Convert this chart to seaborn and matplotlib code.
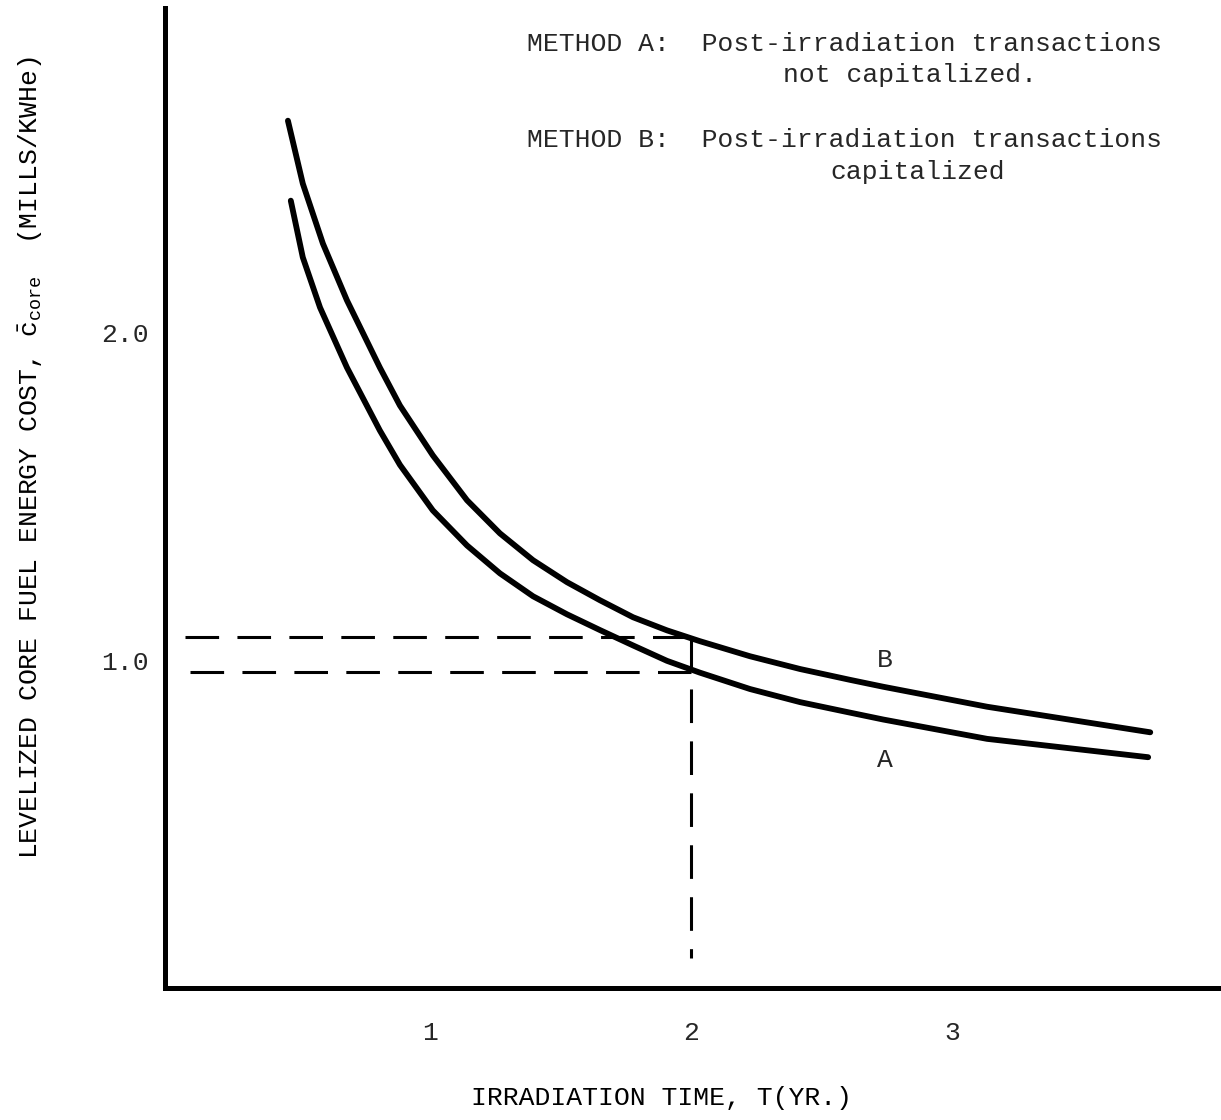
import matplotlib.pyplot as plt
import pandas as pd
import seaborn as sns

# values
t_b = [0.456, 0.513, 0.590, 0.682, 0.808, 0.885, 1.011, 1.142, 1.268, 1.395, 1.525,
       1.651, 1.778, 1.908, 2.034, 2.226, 2.418, 2.609, 2.736, 3.134, 3.759]
cost_b = [2.646, 2.454, 2.271, 2.098, 1.893, 1.777, 1.625, 1.488, 1.387, 1.305, 1.238,
          1.183, 1.131, 1.091, 1.058, 1.012, 0.973, 0.940, 0.919, 0.858, 0.780]
t_a = [0.467, 0.513, 0.579, 0.682, 0.808, 0.885, 1.011, 1.142, 1.268, 1.395, 1.525,
       1.651, 1.778, 1.908, 2.034, 2.226, 2.418, 2.609, 2.736, 3.134, 3.751]
cost_a = [2.402, 2.229, 2.076, 1.893, 1.701, 1.596, 1.457, 1.350, 1.265, 1.195, 1.140,
          1.092, 1.045, 0.998, 0.962, 0.912, 0.872, 0.840, 0.819, 0.760, 0.704]

x_ticks = [1, 2, 3]
x_tick_labels = ["1", "2", "3"]
y_ticks = [1.0, 2.0]
y_tick_labels = ["1.0", "2.0"]

read_t = 2.0
read_b = 1.07
read_a = 0.965
dash_left = 0.06
dash_bottom = 0.09

label_t = 2.743
label_b_y = 1.0
label_a_y = 0.695

df = pd.concat([
    pd.DataFrame({"T": t_a, "cost": cost_a, "method": "A"}),
    pd.DataFrame({"T": t_b, "cost": cost_b, "method": "B"}),
])

sns.set_theme(style="white")
plt.rcParams["font.family"] = ["Liberation Mono", "DejaVu Sans Mono"]
plt.rcParams["mathtext.fontset"] = "custom"
plt.rcParams["mathtext.rm"] = "Liberation Mono"
plt.rcParams["mathtext.it"] = "Liberation Mono"
plt.rcParams["mathtext.tt"] = "Liberation Mono"

fig = plt.figure(figsize=(12.21, 11.2), dpi=100)
ax = fig.add_axes([0.1351, 0.1179, 0.8649, 0.875])

# dashed read-off lines at T = 2
dash_kw = dict(color="black", lw=2.2, dashes=(11, 6), zorder=1)
ax.plot([dash_left, read_t], [read_b, read_b], **dash_kw)
ax.plot([dash_left + 0.02, read_t], [read_a, read_a], **dash_kw)
ax.plot([read_t, read_t], [read_b, dash_bottom], **dash_kw)

sns.lineplot(data=df, x="T", y="cost", hue="method", units="method",
             estimator=None, palette={"A": "black", "B": "black"},
             legend=False, lw=4.2, ax=ax, zorder=3, sort=False,
             solid_joinstyle="round", solid_capstyle="round")

ax.text(label_t, label_b_y, "B", fontsize=19, ha="center", va="center")
ax.text(label_t, label_a_y, "A", fontsize=19, ha="center", va="center")

ax.set_xlim(-0.015, 4.03)
ax.set_ylim(0, 2.99)
ax.set_xticks(x_ticks)
ax.set_xticklabels(x_tick_labels)
ax.set_yticks(y_ticks)
ax.set_yticklabels(y_tick_labels)
ax.tick_params(axis="x", direction="in", length=13, width=3, pad=24,
               labelsize=19, color="black")
ax.tick_params(axis="y", direction="in", length=12, width=3, pad=12,
               labelsize=19, color="black")

sns.despine(ax=ax)
for side in ["left", "bottom"]:
    ax.spines[side].set_linewidth(3.6)
    ax.spines[side].set_color("black")

ax.set_xlabel("IRRADIATION TIME, T(YR.)", fontsize=19, color="black")
ax.xaxis.label.set_va("center")
ax.xaxis.set_label_coords(0.4706, -0.112)
ax.set_ylabel(r"LEVELIZED CORE FUEL ENERGY COST, $\bar{\mathrm{c}}_{\mathrm{core}}$  (MILLS/KWHe)",
              fontsize=19, color="black")
ax.yaxis.label.set_va("center")
ax.yaxis.set_label_coords(-0.128, 0.541)

fs = 19
fig.text(527 / 1221, 1 - 44 / 1120, "METHOD A:  Post-irradiation transactions",
         fontsize=fs, va="center", ha="left")
fig.text(783 / 1221, 1 - 75 / 1120, "not capitalized.", fontsize=fs,
         va="center", ha="left")
fig.text(527 / 1221, 1 - 140 / 1120, "METHOD B:  Post-irradiation transactions",
         fontsize=fs, va="center", ha="left")
fig.text(830 / 1221, 1 - 172 / 1120, "capitalized", fontsize=fs,
         va="center", ha="left")

fig.savefig("out.png", dpi=100)
